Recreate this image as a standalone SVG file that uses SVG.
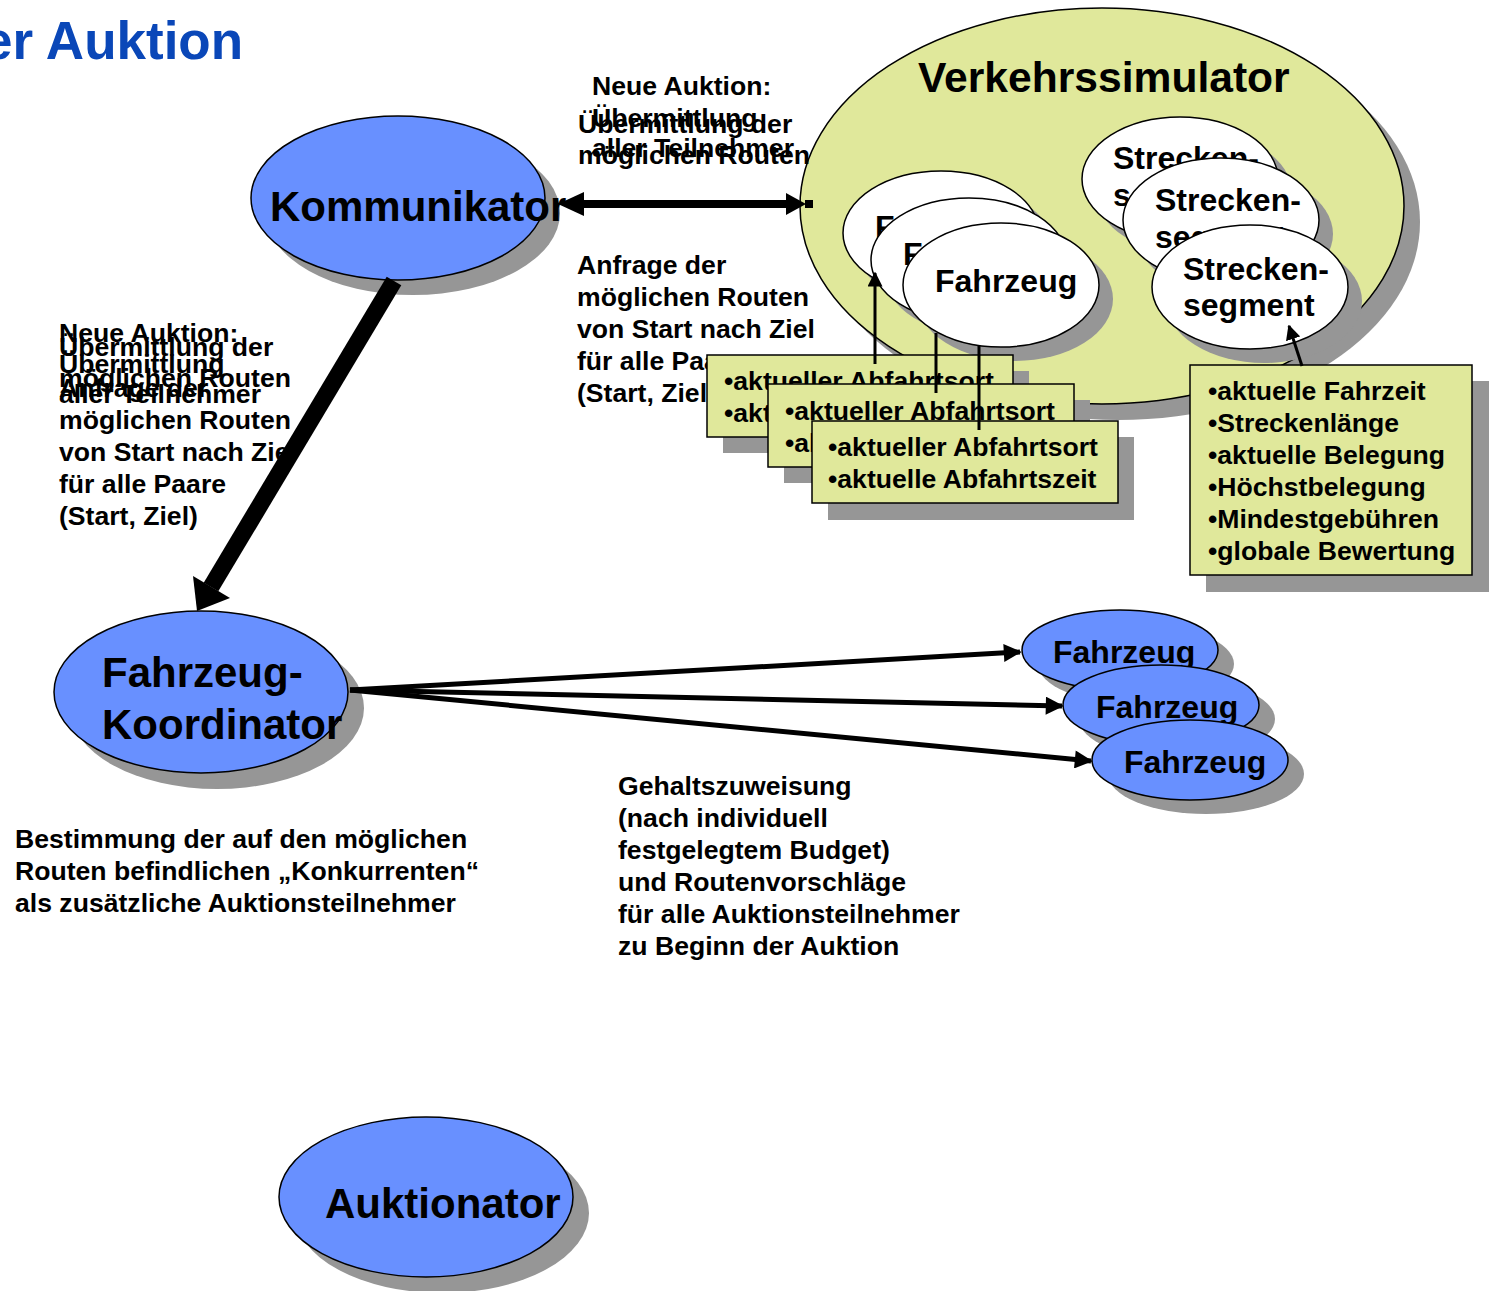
<svg xmlns="http://www.w3.org/2000/svg" width="1489" height="1291" viewBox="0 0 1489 1291">
  <style>
    text { font-family: "Liberation Sans", Arial, sans-serif; font-weight: bold; fill: #000; }
    .title { fill: #0A47B8; font-size: 53px; }
    .big { font-size: 42px; }
    .mid { font-size: 32px; }
    .lbl { font-size: 26.6px; }
    .shadow { fill: #969696; stroke: none; }
    .agent { fill: #6890FF; stroke: #000; stroke-width: 1.5; }
    .white { fill: #FFFFFF; stroke: #000; stroke-width: 1.5; }
    .sim { fill: #E0E89B; stroke: #000; stroke-width: 1.5; }
    .box { fill: #E0E89B; stroke: #000; stroke-width: 1.5; }
    .conn { stroke: #000; fill: none; }
  </style>
  <defs>
    <marker id="arrowMid" viewBox="0 0 10 10" refX="9" refY="5" markerWidth="4.4" markerHeight="3.6" orient="auto" markerUnits="strokeWidth">
      <path d="M0,0 L10,5 L0,10 z" fill="#000"/>
    </marker>
    <marker id="arrowThin" viewBox="0 0 10 10" refX="9" refY="5" markerWidth="5" markerHeight="5" orient="auto" markerUnits="strokeWidth">
      <path d="M0,0 L10,5 L0,10 z" fill="#000"/>
    </marker>
  </defs>

  <!-- page heading -->
  <text class="title" x="-17" y="59">er Auktion</text>

  <!-- Verkehrssimulator -->
  <g id="verkehrssimulator">
    <ellipse class="shadow" cx="1118" cy="222" rx="302" ry="198"/>
    <ellipse class="sim" cx="1102" cy="206" rx="302" ry="198"/>
    <text class="big" x="918" y="92" style="font-size:42.6px">Verkehrssimulator</text>
  </g>

  <!-- vehicles inside the simulator -->
  <g id="sim-fahrzeug-1">
    <ellipse class="shadow" cx="955" cy="247" rx="98" ry="62"/>
    <ellipse class="white" cx="941" cy="233" rx="98" ry="62"/>
    <text class="mid" x="875" y="238">Fahrzeug</text>
  </g>
  <g id="sim-fahrzeug-2">
    <ellipse class="shadow" cx="983" cy="274" rx="98" ry="62"/>
    <ellipse class="white" cx="969" cy="260" rx="98" ry="62"/>
    <text class="mid" x="903" y="265">Fahrzeug</text>
  </g>
  <g id="sim-fahrzeug-3">
    <ellipse class="shadow" cx="1015" cy="299" rx="98" ry="62"/>
    <ellipse class="white" cx="1001" cy="285" rx="98" ry="62"/>
    <text class="mid" x="935" y="292">Fahrzeug</text>
  </g>

  <!-- route segments inside the simulator -->
  <g id="segment-1">
    <ellipse class="shadow" cx="1194" cy="193" rx="98" ry="62"/>
    <ellipse class="white" cx="1180" cy="179" rx="98" ry="62"/>
    <text class="mid" x="1113" y="169">Strecken-</text>
    <text class="mid" x="1113" y="206">segment</text>
  </g>
  <g id="segment-2">
    <ellipse class="shadow" cx="1235" cy="234" rx="98" ry="62"/>
    <ellipse class="white" cx="1221" cy="220" rx="98" ry="62"/>
    <text class="mid" x="1155" y="211">Strecken-</text>
    <text class="mid" x="1155" y="248">segment</text>
  </g>
  <g id="segment-3">
    <ellipse class="shadow" cx="1264" cy="301" rx="98" ry="62"/>
    <ellipse class="white" cx="1250" cy="287" rx="98" ry="62"/>
    <text class="mid" x="1183" y="280">Strecken-</text>
    <text class="mid" x="1183" y="316">segment</text>
  </g>

  <!-- request label between Kommunikator and simulator -->
  <g id="label-anfrage">
    <text class="lbl" x="577" y="274">Anfrage der</text>
    <text class="lbl" x="577" y="306">möglichen Routen</text>
    <text class="lbl" x="577" y="338">von Start nach Ziel</text>
    <text class="lbl" x="577" y="370">für alle Paare</text>
    <text class="lbl" x="577" y="402">(Start, Ziel)</text>
  </g>

  <!-- vehicle attribute boxes -->
  <g id="info-fahrzeug-1">
    <rect class="shadow" x="723" y="371" width="306" height="82"/>
    <rect class="box" x="707" y="355" width="306" height="82"/>
    <text class="lbl" x="724" y="390">•aktueller Abfahrtsort</text>
    <text class="lbl" x="724" y="422">•aktuelle Abfahrtszeit</text>
  </g>
  <g id="info-fahrzeug-2">
    <rect class="shadow" x="784" y="400" width="306" height="83"/>
    <rect class="box" x="768" y="384" width="306" height="83"/>
    <text class="lbl" x="785" y="420">•aktueller Abfahrtsort</text>
    <text class="lbl" x="785" y="452">•aktuelle Abfahrtszeit</text>
  </g>
  <g id="info-fahrzeug-3">
    <rect class="shadow" x="828" y="437" width="306" height="83"/>
    <rect class="box" x="812" y="421" width="306" height="82"/>
    <text class="lbl" x="828" y="456">•aktueller Abfahrtsort</text>
    <text class="lbl" x="828" y="488">•aktuelle Abfahrtszeit</text>
  </g>

  <!-- route segment attribute box -->
  <g id="info-segment">
    <rect class="shadow" x="1206" y="381" width="283" height="211"/>
    <rect class="box" x="1190" y="365" width="282" height="210"/>
    <text class="lbl" x="1208" y="400">•aktuelle Fahrzeit</text>
    <text class="lbl" x="1208" y="432">•Streckenlänge</text>
    <text class="lbl" x="1208" y="464">•aktuelle Belegung</text>
    <text class="lbl" x="1208" y="496">•Höchstbelegung</text>
    <text class="lbl" x="1208" y="528">•Mindestgebühren</text>
    <text class="lbl" x="1208" y="560">•globale Bewertung</text>
  </g>

  <!-- agents -->
  <g id="kommunikator">
    <ellipse class="shadow" cx="413" cy="213" rx="147" ry="82"/>
    <ellipse class="agent" cx="398" cy="198" rx="147" ry="82"/>
    <text class="big" x="270" y="221">Kommunikator</text>
  </g>
  <g id="fahrzeug-koordinator">
    <ellipse class="shadow" cx="217" cy="708" rx="147" ry="81"/>
    <ellipse class="agent" cx="201" cy="692" rx="147" ry="81"/>
    <text class="big" x="102" y="687">Fahrzeug-</text>
    <text class="big" x="102" y="739">Koordinator</text>
  </g>
  <g id="auktionator">
    <ellipse class="shadow" cx="442" cy="1213" rx="147" ry="80"/>
    <ellipse class="agent" cx="426" cy="1197" rx="147" ry="80"/>
    <text class="big" x="325" y="1218">Auktionator</text>
  </g>

  <!-- auction participants -->
  <g id="fahrzeug-a">
    <ellipse class="shadow" cx="1136" cy="664" rx="98" ry="40"/>
    <ellipse class="agent" cx="1120" cy="650" rx="98" ry="40"/>
    <text class="mid" x="1053" y="663">Fahrzeug</text>
  </g>
  <g id="fahrzeug-b">
    <ellipse class="shadow" cx="1177" cy="719" rx="98" ry="40"/>
    <ellipse class="agent" cx="1161" cy="705" rx="98" ry="40"/>
    <text class="mid" x="1096" y="718">Fahrzeug</text>
  </g>
  <g id="fahrzeug-c">
    <ellipse class="shadow" cx="1206" cy="774" rx="98" ry="40"/>
    <ellipse class="agent" cx="1190" cy="760" rx="98" ry="40"/>
    <text class="mid" x="1124" y="773">Fahrzeug</text>
  </g>

  <!-- labels -->
  <g id="label-neue-auktion-top">
    <text class="lbl" x="592" y="95">Neue Auktion:</text>
    <text class="lbl" x="592" y="127">Übermittlung</text>
    <text class="lbl" x="592" y="157">aller Teilnehmer</text>
    <text class="lbl" x="578" y="133">Übermittlung der</text>
    <text class="lbl" x="578" y="164">möglichen Routen</text>
  </g>
  <g id="label-neue-auktion-left">
    <text class="lbl" x="59" y="342">Neue Auktion:</text>
    <text class="lbl" x="59" y="373">Übermittlung</text>
    <text class="lbl" x="59" y="403">aller Teilnehmer</text>
    <text class="lbl" x="59" y="356">Übermittlung der</text>
    <text class="lbl" x="59" y="387">möglichen Routen</text>
    <text class="lbl" x="59" y="397">Anfrage der</text>
    <text class="lbl" x="59" y="429">möglichen Routen</text>
    <text class="lbl" x="59" y="461">von Start nach Ziel</text>
    <text class="lbl" x="59" y="493">für alle Paare</text>
    <text class="lbl" x="59" y="525">(Start, Ziel)</text>
  </g>
  <g id="label-konkurrenten">
    <text class="lbl" x="15" y="848">Bestimmung der auf den möglichen</text>
    <text class="lbl" x="15" y="880">Routen befindlichen „Konkurrenten“</text>
    <text class="lbl" x="15" y="912">als zusätzliche Auktionsteilnehmer</text>
  </g>
  <g id="label-gehalt">
    <text class="lbl" x="618" y="795">Gehaltszuweisung</text>
    <text class="lbl" x="618" y="827">(nach individuell</text>
    <text class="lbl" x="618" y="859">festgelegtem Budget)</text>
    <text class="lbl" x="618" y="891">und Routenvorschläge</text>
    <text class="lbl" x="618" y="923">für alle Auktionsteilnehmer</text>
    <text class="lbl" x="618" y="955">zu Beginn der Auktion</text>
  </g>

  <!-- connectors -->
  <g id="connectors">
    <!-- Kommunikator <-> Verkehrssimulator -->
    <line class="conn" x1="580" y1="204" x2="790" y2="204" stroke-width="8"/>
    <line class="conn" x1="805" y1="204" x2="813" y2="204" stroke-width="8"/>
    <polygon points="558,204 584,192 584,216" fill="#000"/>
    <polygon points="806,204 786,193 786,215" fill="#000"/>
    <!-- Kommunikator -> Fahrzeug-Koordinator -->
    <line class="conn" x1="394" y1="281" x2="211" y2="587" stroke-width="17"/>
    <polygon points="197,611 230,598 193,576" fill="#000"/>
    <!-- Fahrzeug-Koordinator -> Fahrzeuge -->
    <line class="conn" x1="350" y1="690" x2="1020" y2="652" stroke-width="5" marker-end="url(#arrowMid)"/>
    <line class="conn" x1="350" y1="690" x2="1062" y2="706" stroke-width="5" marker-end="url(#arrowMid)"/>
    <line class="conn" x1="350" y1="690" x2="1091" y2="761" stroke-width="5" marker-end="url(#arrowMid)"/>
    <!-- attribute boxes -> simulator objects -->
    <line class="conn" x1="875" y1="364" x2="875" y2="273" stroke-width="3" marker-end="url(#arrowThin)"/>
    <line class="conn" x1="936" y1="393" x2="936" y2="333" stroke-width="3"/>
    <line class="conn" x1="979" y1="430" x2="979" y2="346" stroke-width="3"/>
    <line class="conn" x1="1302" y1="366" x2="1289" y2="326" stroke-width="3" marker-end="url(#arrowThin)"/>
  </g>
</svg>
